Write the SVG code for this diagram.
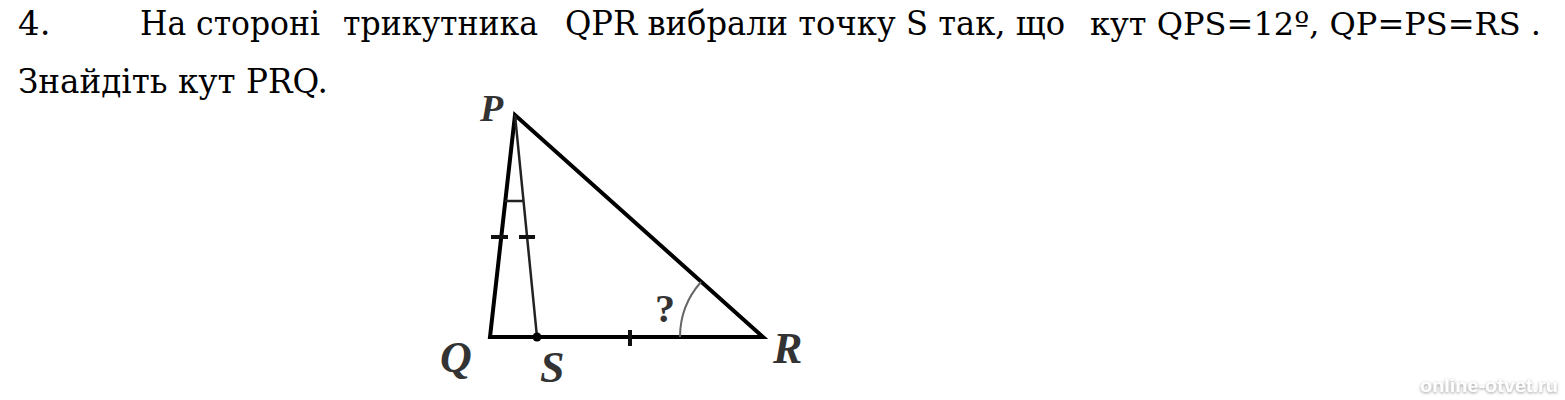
<svg xmlns="http://www.w3.org/2000/svg" width="1565" height="400" viewBox="0 0 1565 400">
<style>
.txt{font-family:"DejaVu Serif","Liberation Serif",serif;font-size:34px;fill:#000}
.lbl{font-family:"Liberation Serif","Times New Roman",serif;font-style:italic;font-weight:bold;font-size:44px;fill:#333}
.side{stroke:#000;stroke-width:4;fill:none;stroke-linecap:round;stroke-linejoin:miter}
.thin{stroke:#222;stroke-width:2.5;fill:none}
.tick{stroke:#111;stroke-width:4;fill:none}
.arc{stroke:#666;stroke-width:2;fill:none}
.wm{font-family:"Liberation Sans",Arial,sans-serif;font-weight:bold;font-size:19px;fill:#fff}
</style>
<defs>
<filter id="sh" x="-10%" y="-50%" width="120%" height="200%">
<feDropShadow dx="0" dy="1" stdDeviation="1.5" flood-color="#888" flood-opacity="0.9"/>
</filter>
</defs>
<rect width="1565" height="400" fill="#fff"/>
<g id="problem-text">
<text class="txt" x="18" y="35">4.</text>
<text class="txt" x="140" y="35" textLength="180" lengthAdjust="spacingAndGlyphs">На стороні</text>
<text class="txt" x="343" y="35" textLength="195" lengthAdjust="spacingAndGlyphs">трикутника</text>
<text class="txt" x="565" y="35" textLength="500" lengthAdjust="spacingAndGlyphs">QPR вибрали точку S так, що</text>
<text class="txt" x="1090" y="35" textLength="451" lengthAdjust="spacingAndGlyphs" style="font-size:32px">кут QPS=12º, QP=PS=RS .</text>
<text class="txt" x="18" y="93" textLength="310" lengthAdjust="spacingAndGlyphs">Знайдіть кут PRQ.</text>
</g>
<g id="connectors">
<polygon class="side" points="515,115 490,337 763,337"/>
<line class="thin" x1="515" y1="115" x2="537" y2="337"/>
<line x1="505" y1="201" x2="523" y2="201" style="stroke:#222;stroke-width:2.5"/>
<line class="tick" x1="491" y1="237" x2="508" y2="237"/>
<line class="tick" x1="519" y1="237" x2="535" y2="237"/>
<line class="tick" x1="630" y1="330" x2="630" y2="346"/>
<path class="arc" d="M680,337 A83,83 0 0 1 701,282"/>
</g>
<g id="node-P"><text class="lbl" x="480" y="121" style="font-size:38px">P</text></g>
<g id="node-Q"><text class="lbl" x="440" y="372">Q</text></g>
<g id="node-S"><circle cx="537" cy="337" r="4.5" fill="#000"/><text class="lbl" x="540" y="382">S</text></g>
<g id="node-R"><text class="lbl" x="773" y="363">R</text></g>
<g id="angle-label"><text class="lbl" x="655" y="322" style="font-style:normal;font-size:40px">?</text></g>
<g id="watermark"><text class="wm" x="1420" y="392" textLength="138" lengthAdjust="spacingAndGlyphs" filter="url(#sh)">online-otvet.ru</text></g>
</svg>
